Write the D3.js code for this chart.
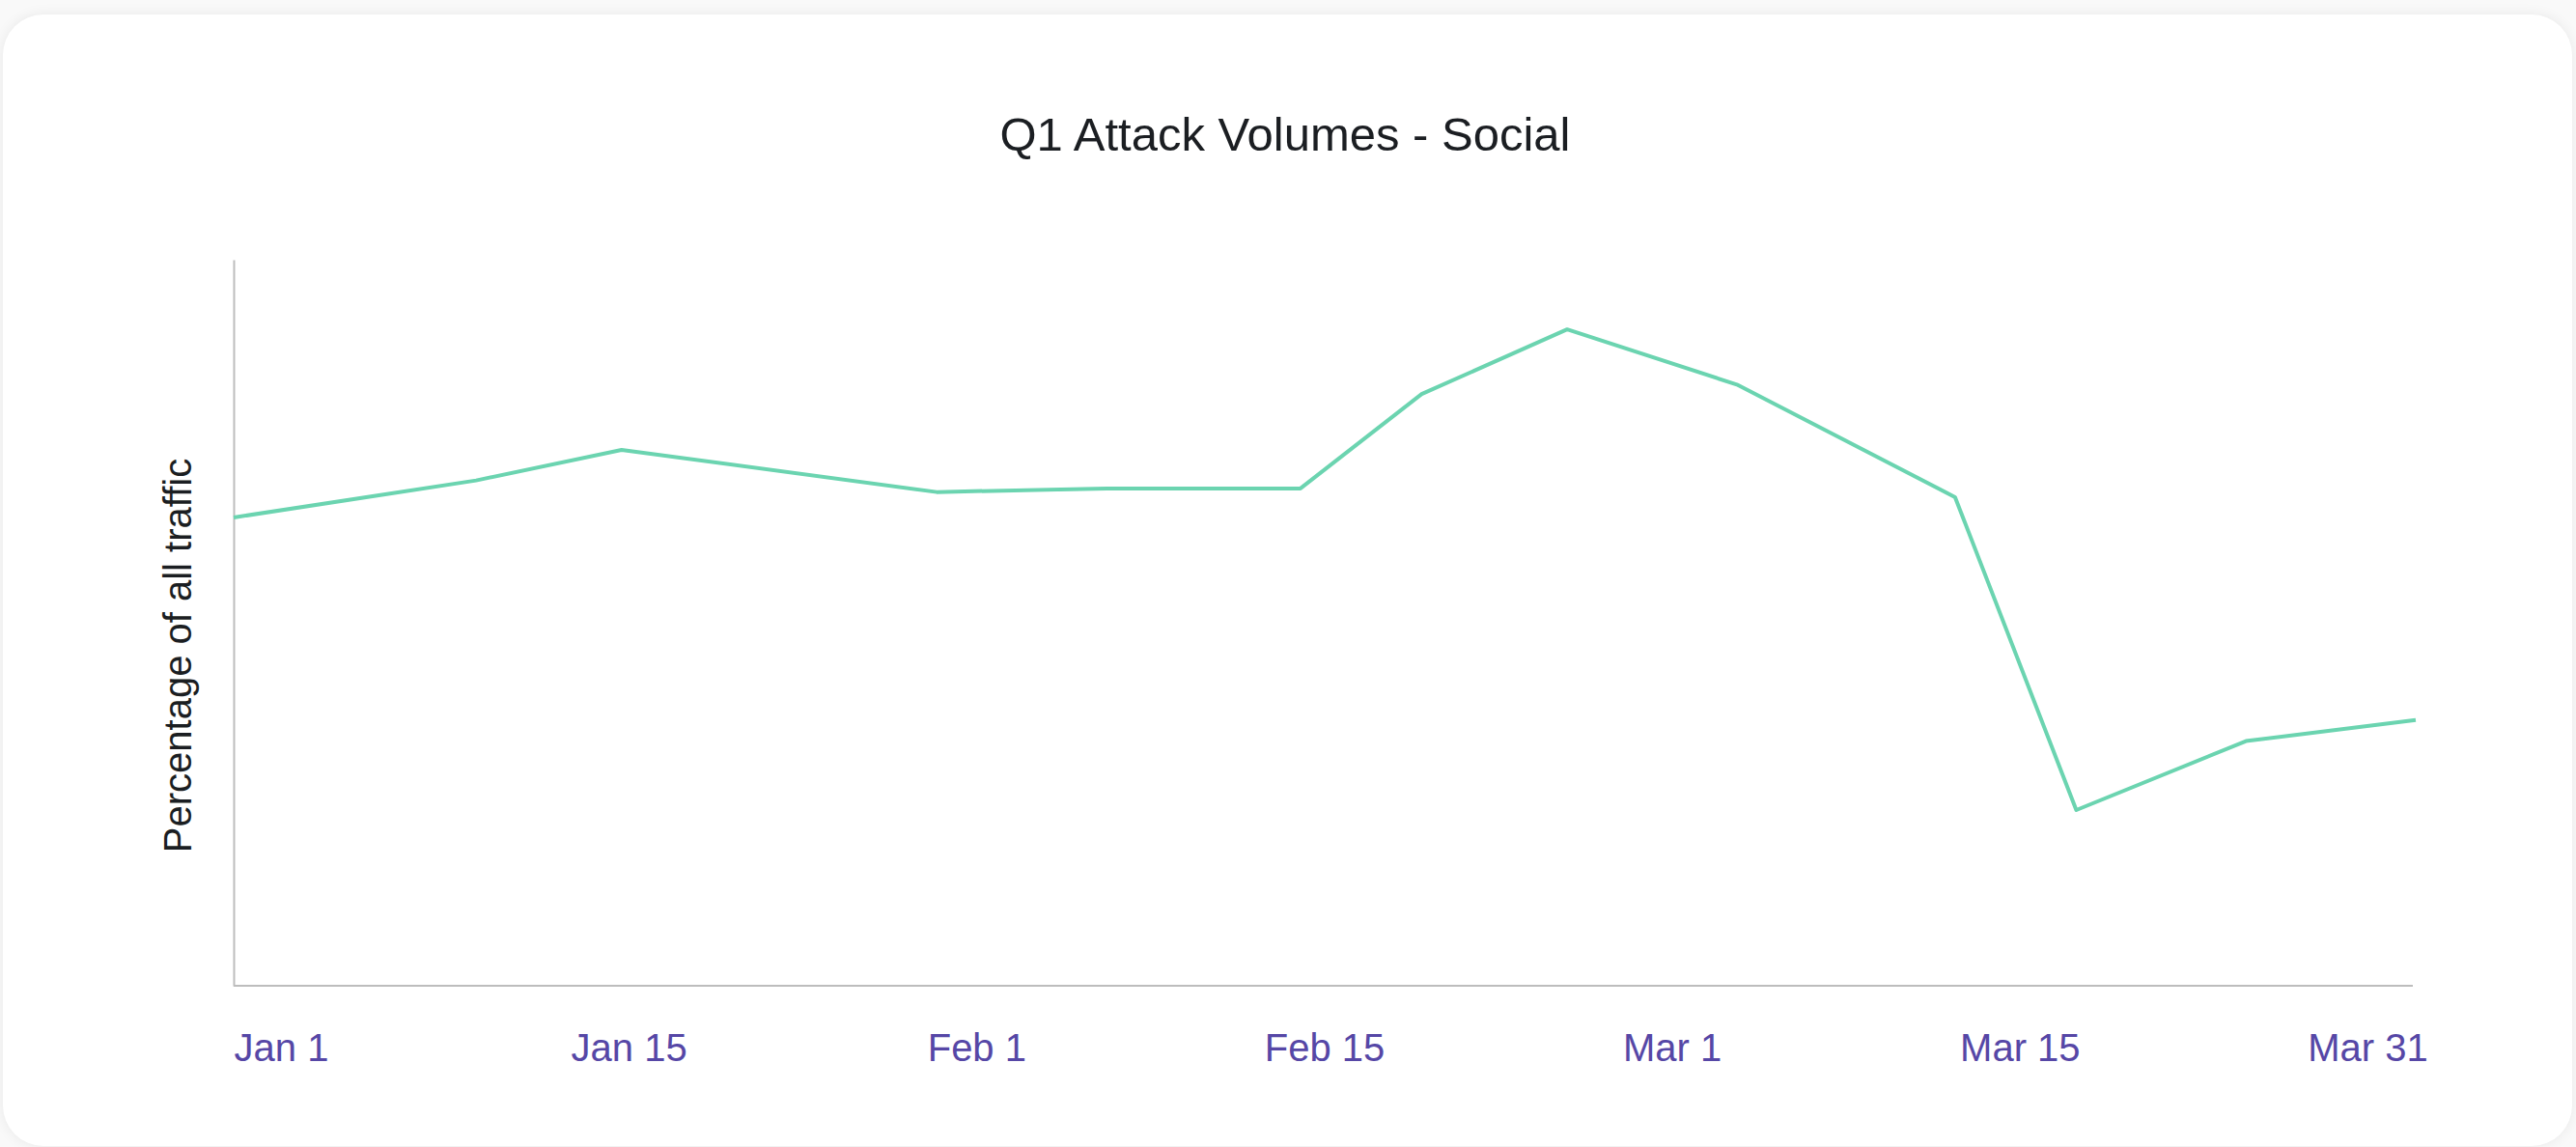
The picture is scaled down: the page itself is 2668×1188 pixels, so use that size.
<!DOCTYPE html>
<html>
<head>
<meta charset="utf-8">
<script src="https://cdn.jsdelivr.net/npm/d3@7/dist/d3.min.js"></script>
<style>
  html, body { margin: 0; padding: 0; background: #f9f9f9; }
  body { width: 2668px; height: 1188px; position: relative; overflow: hidden; }
  .card {
    position: absolute; left: 3px; top: 15px; width: 2661px; height: 1172px;
    background: #ffffff; border-radius: 42px;
    box-shadow: 0 0 14px rgba(0,0,0,0.07);
  }
  svg { position: absolute; left: 0; top: 0; }
  text { font-family: "Liberation Sans", Arial, Helvetica, sans-serif; }
</style>
</head>
<body>
<div class="card"></div>
<svg id="chart" width="2668" height="1188"></svg>
<script>
// Social attack volume, as a share of all traffic, across Q1
const dates = ["2020-01-01", "2020-01-11", "2020-01-17", "2020-01-30", "2020-02-06", "2020-02-14",
               "2020-02-19", "2020-02-25", "2020-03-03", "2020-03-12", "2020-03-17", "2020-03-24", "2020-03-31"];
const values = [64.5, 69.6, 73.8, 68.0, 68.5, 68.5, 81.5, 90.4, 82.8, 67.3, 24.2, 33.7, 36.6];
const tickLabels = ["Jan 1", "Jan 15", "Feb 1", "Feb 15", "Mar 1", "Mar 15", "Mar 31"];

const parse = d3.timeParse("%Y-%m-%d");
const points = dates.map((d, i) => ({ date: parse(d), value: values[i] }));

const svg = d3.select("#chart");

const plot = { left: 242, right: 2502, top: 269, bottom: 1021 };

const x = d3.scaleTime()
  .domain(d3.extent(points, d => d.date))
  .range([plot.left, plot.right]);

const y = d3.scaleLinear()
  .domain([0, 100])
  .range([plot.bottom, plot.top]);

// evenly spaced period labels under the plot
const xLabels = d3.scalePoint()
  .domain(tickLabels)
  .range([291, 2452]);

// title
svg.append("text")
  .attr("x", 1331)
  .attr("y", 156)
  .attr("text-anchor", "middle")
  .attr("font-size", 49)
  .attr("fill", "#1b1e22")
  .text("Q1 Attack Volumes - Social");

// axis lines
const axisColor = "#bdbdbd";
const yAxisG = svg.append("g")
  .attr("transform", `translate(${plot.left},0)`)
  .call(d3.axisLeft(y).ticks(0).tickSizeOuter(0));
yAxisG.select(".domain").attr("stroke", axisColor).attr("stroke-width", 2);

const xAxisG = svg.append("g")
  .attr("transform", `translate(0,${plot.bottom})`)
  .call(d3.axisBottom(x).ticks(0).tickSizeOuter(0));
xAxisG.select(".domain").attr("stroke", axisColor).attr("stroke-width", 2)
  .attr("d", `M${plot.left},0H2499`);

// tick labels
const labelG = svg.append("g")
  .attr("transform", `translate(0,${plot.bottom})`)
  .call(d3.axisBottom(xLabels).tickSize(0).tickPadding(50));
labelG.select(".domain").remove();
labelG.selectAll("text")
  .attr("font-size", 40)
  .attr("font-family", "\"Liberation Sans\", Arial, Helvetica, sans-serif")
  .attr("fill", "#5647a6");

// y axis title
svg.append("text")
  .attr("transform", "translate(198,679) rotate(-90)")
  .attr("text-anchor", "middle")
  .attr("font-size", 40)
  .attr("fill", "#1b1e22")
  .text("Percentage of all traffic");

// series line
const line = d3.line()
  .x(d => x(d.date))
  .y(d => y(d.value));

svg.append("path")
  .datum(points)
  .attr("fill", "none")
  .attr("stroke", "#6bd4b0")
  .attr("stroke-width", 4)
  .attr("stroke-linejoin", "round")
  .attr("d", line);
</script>
</body>
</html>
